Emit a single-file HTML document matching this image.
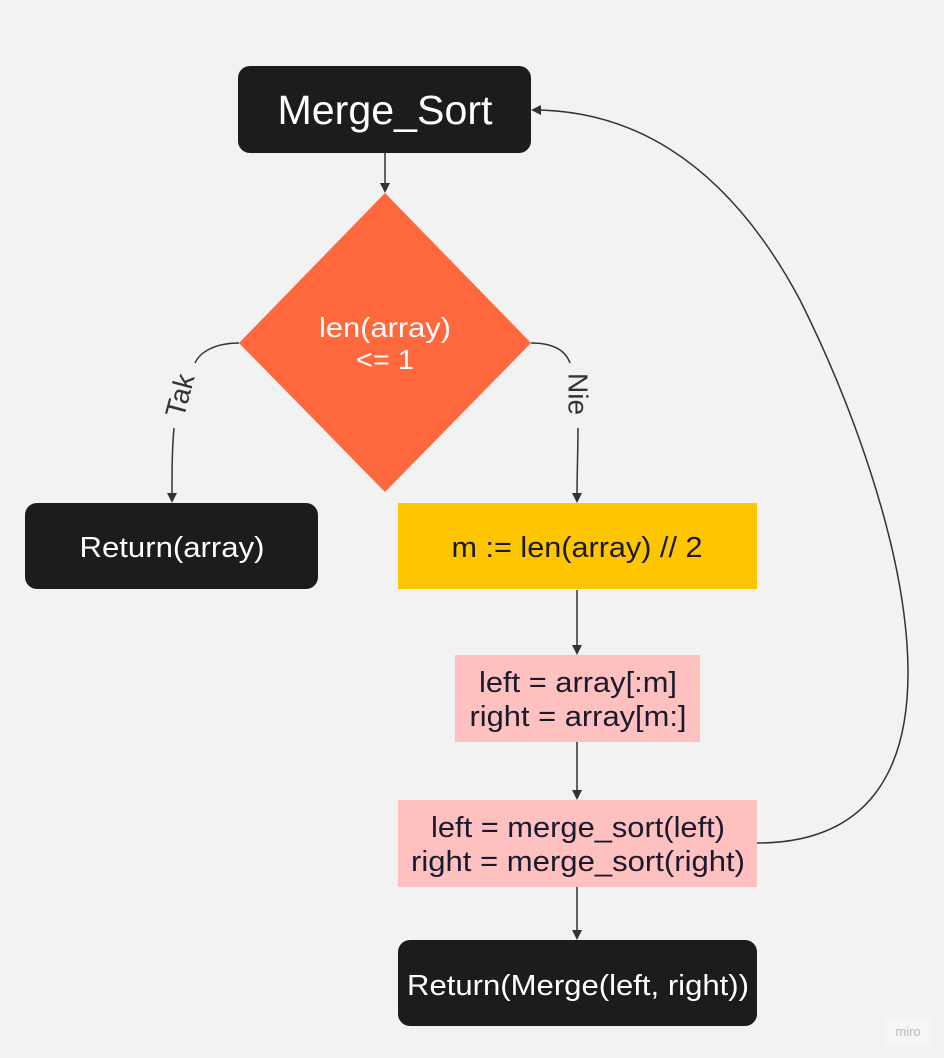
<!DOCTYPE html>
<html><head><meta charset="utf-8"><style>
html,body{margin:0;padding:0;background:#f2f2f2;}
svg{display:block;font-family:"Liberation Sans",sans-serif;}
</style></head><body>
<svg width="944" height="1058" viewBox="0 0 944 1058" xmlns="http://www.w3.org/2000/svg">
<defs><marker id="a" markerWidth="10" markerHeight="10" refX="8" refY="5" orient="auto" markerUnits="userSpaceOnUse"><path d="M0,0 L10,5 L0,10 z" fill="#333"/></marker></defs>
<rect width="944" height="1058" fill="#f2f2f2"/>
<rect x="238" y="66" width="293" height="87" rx="12" fill="#1c1c1c"/>
<text x="385" y="124" font-size="41" fill="#fff" text-anchor="middle" textLength="215" lengthAdjust="spacingAndGlyphs">Merge_Sort</text>
<line x1="385" y1="153" x2="385" y2="191" stroke="#333" stroke-width="1.5" marker-end="url(#a)"/>
<polygon points="385,193 531,343 385,492 239,343" fill="#ff683c"/>
<text x="385" y="337" font-size="28" fill="#fff" text-anchor="middle" textLength="132" lengthAdjust="spacingAndGlyphs">len(array)</text>
<text x="385" y="369" font-size="28" fill="#fff" text-anchor="middle" textLength="58" lengthAdjust="spacingAndGlyphs">&lt;= 1</text>
<path d="M239,343 C215,343 200,352 195,363" fill="none" stroke="#333" stroke-width="1.5"/>
<text transform="translate(182,396) rotate(-75)" font-size="28" fill="#333" text-anchor="middle" dominant-baseline="middle">Tak</text>
<path d="M174,428 C172,450 172,470 172,501" fill="none" stroke="#333" stroke-width="1.5" marker-end="url(#a)"/>
<path d="M531,343 C555,343 566,352 570,363" fill="none" stroke="#333" stroke-width="1.5"/>
<text transform="translate(576,394) rotate(90)" font-size="28" fill="#333" text-anchor="middle" dominant-baseline="middle">Nie</text>
<path d="M578,428 C578,450 577,470 577,501" fill="none" stroke="#333" stroke-width="1.5" marker-end="url(#a)"/>
<rect x="25" y="503" width="293" height="86" rx="12" fill="#1c1c1c"/>
<text x="172" y="557" font-size="29" fill="#fff" text-anchor="middle" textLength="185" lengthAdjust="spacingAndGlyphs">Return(array)</text>
<rect x="398" y="503" width="359" height="86" fill="#ffc600"/>
<text x="577" y="557" font-size="29" fill="#1a1a2e" text-anchor="middle" textLength="251" lengthAdjust="spacingAndGlyphs">m := len(array) // 2</text>
<line x1="577" y1="590" x2="577" y2="653" stroke="#333" stroke-width="1.5" marker-end="url(#a)"/>
<rect x="455" y="655" width="245" height="87" fill="#ffc0c0"/>
<text x="578" y="692" font-size="29" fill="#1a1a2e" text-anchor="middle" textLength="198" lengthAdjust="spacingAndGlyphs">left = array[:m]</text>
<text x="578" y="726" font-size="29" fill="#1a1a2e" text-anchor="middle" textLength="217" lengthAdjust="spacingAndGlyphs">right = array[m:]</text>
<line x1="577" y1="742" x2="577" y2="798" stroke="#333" stroke-width="1.5" marker-end="url(#a)"/>
<rect x="398" y="800" width="359" height="87" fill="#ffc0c0"/>
<text x="578" y="837" font-size="29" fill="#1a1a2e" text-anchor="middle" textLength="294" lengthAdjust="spacingAndGlyphs">left = merge_sort(left)</text>
<text x="578" y="871" font-size="29" fill="#1a1a2e" text-anchor="middle" textLength="334" lengthAdjust="spacingAndGlyphs">right = merge_sort(right)</text>
<line x1="577" y1="887" x2="577" y2="938" stroke="#333" stroke-width="1.5" marker-end="url(#a)"/>
<rect x="398" y="940" width="359" height="86" rx="12" fill="#1c1c1c"/>
<text x="578" y="995" font-size="29" fill="#fff" text-anchor="middle" textLength="342" lengthAdjust="spacingAndGlyphs">Return(Merge(left, right))</text>
<path d="M757,843 C1000,843 900,500 800,300 C720,150 620,110 533,110" fill="none" stroke="#333" stroke-width="1.5" marker-end="url(#a)"/>
<rect x="885" y="1018" width="46" height="26" fill="#f6f6f6"/>
<text x="908" y="1036" font-size="13" fill="#bbb" text-anchor="middle">miro</text>
</svg>
</body></html>
